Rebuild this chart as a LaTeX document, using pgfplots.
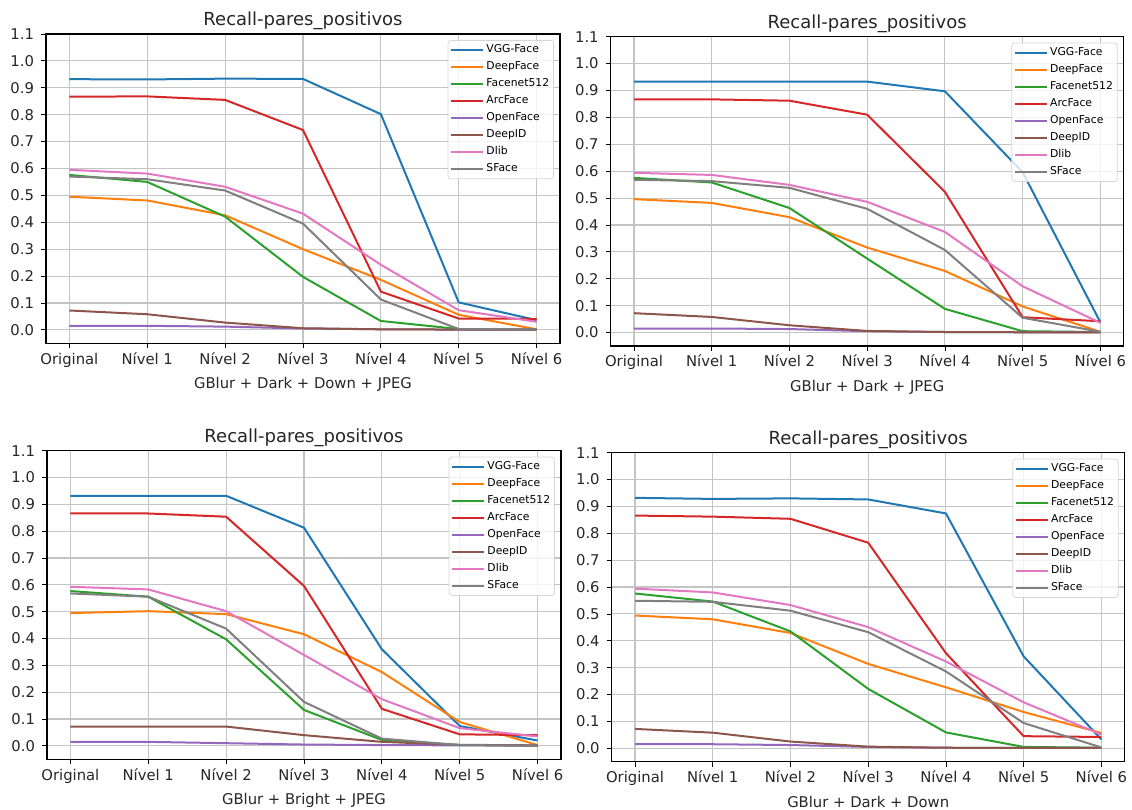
\documentclass[border=0pt]{standalone}
\usepackage{fontspec}
\setmainfont{DejaVu Sans}
\usepackage{pgfplots}
\usepackage{pgfplotstable}
\pgfplotsset{compat=1.18}
\definecolor{c0}{HTML}{1F77B4}
\definecolor{c1}{HTML}{FF7F0E}
\definecolor{c2}{HTML}{2CA02C}
\definecolor{c3}{HTML}{D62728}
\definecolor{c4}{HTML}{9467BD}
\definecolor{c5}{HTML}{8C564B}
\definecolor{c6}{HTML}{E377C2}
\definecolor{c7}{HTML}{7F7F7F}
\definecolor{gridc}{HTML}{C4C4C4}
\definecolor{legc}{HTML}{D6D6D6}

% columns: x vgg deepface facenet arcface openface deepid dlib sface
\pgfplotstableread{
x vgg deepface facenet arcface openface deepid dlib sface
0 0.932 0.495 0.576 0.867 0.015 0.072 0.595 0.570
1 0.931 0.481 0.550 0.868 0.015 0.058 0.581 0.560
2 0.934 0.426 0.421 0.855 0.012 0.027 0.532 0.518
3 0.933 0.300 0.197 0.743 0.005 0.006 0.432 0.395
4 0.802 0.186 0.033 0.142 0.002 0.002 0.242 0.113
5 0.102 0.056 0.003 0.042 0.001 0.001 0.073 0.003
6 0.036 0.002 0.001 0.041 0.001 0.001 0.030 0.002
}\tA
\pgfplotstableread{
x vgg deepface facenet arcface openface deepid dlib sface
0 0.933 0.496 0.575 0.867 0.015 0.072 0.594 0.568
1 0.933 0.482 0.558 0.867 0.015 0.058 0.586 0.563
2 0.933 0.429 0.463 0.862 0.013 0.027 0.549 0.538
3 0.933 0.316 0.275 0.810 0.005 0.006 0.486 0.460
4 0.897 0.229 0.088 0.523 0.002 0.002 0.374 0.307
5 0.596 0.097 0.005 0.057 0.001 0.001 0.172 0.055
6 0.038 0.003 0.002 0.042 0.001 0.001 0.036 0.003
}\tB
\pgfplotstableread{
x vgg deepface facenet arcface openface deepid dlib sface
0 0.932 0.495 0.577 0.866 0.015 0.072 0.593 0.568
1 0.932 0.502 0.556 0.866 0.015 0.072 0.583 0.556
2 0.932 0.491 0.397 0.854 0.010 0.072 0.502 0.437
3 0.813 0.416 0.134 0.596 0.005 0.040 0.339 0.164
4 0.360 0.275 0.022 0.138 0.003 0.015 0.174 0.027
5 0.074 0.089 0.003 0.043 0.002 0.004 0.066 0.003
6 0.020 0.003 0.001 0.040 0.001 0.002 0.035 0.001
}\tC
\pgfplotstableread{
x vgg deepface facenet arcface openface deepid dlib sface
0 0.932 0.494 0.576 0.866 0.015 0.072 0.594 0.549
1 0.928 0.480 0.546 0.862 0.015 0.058 0.580 0.545
2 0.930 0.429 0.435 0.854 0.012 0.025 0.533 0.512
3 0.926 0.314 0.221 0.765 0.005 0.006 0.451 0.432
4 0.874 0.227 0.059 0.354 0.002 0.002 0.323 0.286
5 0.342 0.135 0.005 0.045 0.001 0.001 0.171 0.094
6 0.033 0.057 0.002 0.042 0.001 0.001 0.051 0.003
}\tD

\pgfplotsset{
  every axis title shift=0pt,
  panel/.style={
    anchor=south west, scale only axis,
    xmin=-0.3, xmax=6.3, ymin=-0.05, ymax=1.1,
    xtick={0,...,6},
    xticklabels={Original,Nível 1,Nível 2,Nível 3,Nível 4,Nível 5,Nível 6},
    ytick={0,0.1,...,1.1},
    yticklabel style={/pgf/number format/.cd, fixed, fixed zerofill, precision=1, assume math mode=true},
    tick label style={font=\fontsize{7.4}{8.8}\selectfont, text=black!85},
    xticklabel style={text height=0.76em, text depth=0.24em, yshift=3.2pt},
    tick align=outside, xtick pos=bottom, ytick pos=left,
    major tick length=2.5pt,
    tick style={black, line width=0.4pt},
    axis line style={black, line width=0.55pt},
    grid=major, major grid style={gridc, line width=0.55pt},
    title style={font=\fontsize{9}{10.8}\selectfont, text=black!85, at={(0.5,1)}, anchor=base, yshift=4.3pt},
    title={Recall-pares\_positivos},
    xlabel style={font=\fontsize{7.4}{8.8}\selectfont, text=black!85, at={(axis description cs:0.5,0)}, anchor=base, yshift=-22.8pt},
    every axis plot/.append style={line width=1pt, line join=round},
    legend style={at={(1,1)}, anchor=north east, xshift=-3pt, yshift=-3pt,
      font=\fontsize{5.4}{6}\selectfont, draw=legc, fill=white, fill opacity=0.8, text opacity=1,
      rounded corners=1.5pt, inner sep=1.2pt, row sep=1.2pt,
      nodes={text height=4.1pt, text depth=1.2pt, inner sep=1pt}},
    legend cell align=left,
    legend image code/.code={\path (-1.8pt,0pt) -- (14.2pt,0pt); \draw[##1, line width=1pt] (0pt,0pt) -- (12pt,0pt);},
  }
}

\newcommand{\series}[1]{%
  \addplot[c0] table[x=x,y=vgg] {#1};
  \addplot[c1] table[x=x,y=deepface] {#1};
  \addplot[c2] table[x=x,y=facenet] {#1};
  \addplot[c3] table[x=x,y=arcface] {#1};
  \addplot[c4] table[x=x,y=openface] {#1};
  \addplot[c5] table[x=x,y=deepid] {#1};
  \addplot[c6] table[x=x,y=dlib] {#1};
  \addplot[c7] table[x=x,y=sface] {#1};
  \legend{VGG-Face,DeepFace,Facenet512,ArcFace,OpenFace,DeepID,Dlib,SFace}
}

\begin{document}
\begin{tikzpicture}
\path[use as bounding box] (0,0) rectangle (566pt,405pt);
\begin{axis}[panel, at={(23pt,233.35pt)}, width=257pt, height=154.65pt, xlabel={GBlur + Dark + Down + JPEG}]
\series{\tA}
\end{axis}
\begin{axis}[panel, at={(305.35pt,232pt)}, width=256.5pt, height=154.65pt, xlabel={GBlur + Dark + JPEG}]
\series{\tB}
\end{axis}
\begin{axis}[panel, at={(23.5pt,25.35pt)}, width=257pt, height=154.3pt, xlabel={GBlur + Bright + JPEG}]
\series{\tC}
\end{axis}
\begin{axis}[panel, at={(305.85pt,24.15pt)}, width=256.5pt, height=154.5pt, xlabel={GBlur + Dark + Down}]
\series{\tD}
\end{axis}
\end{tikzpicture}
\end{document}
